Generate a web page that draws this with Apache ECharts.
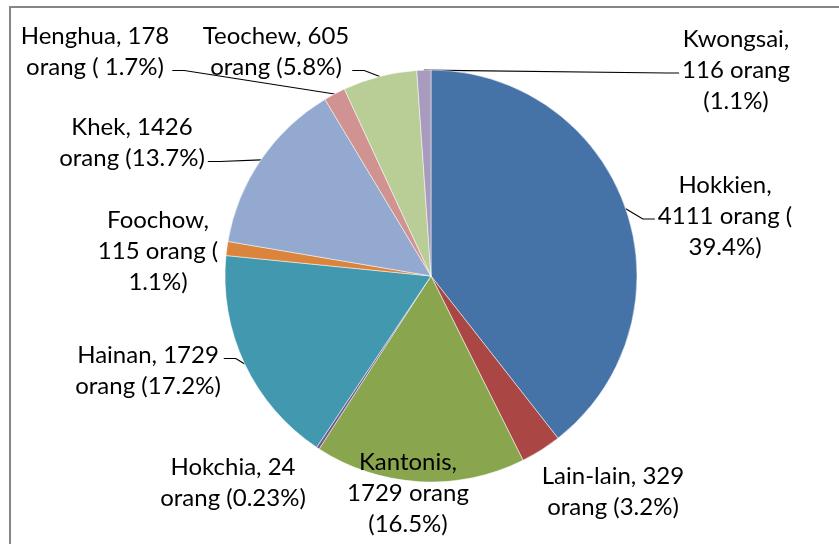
<!DOCTYPE html>
<html>
<head>
<meta charset="utf-8">
<script src="https://cdn.jsdelivr.net/npm/echarts@6/dist/echarts.min.js"></script>
<style>
  html, body { margin: 0; padding: 0; background: #fff; }
  #chart { width: 839px; height: 544px; }
</style>
</head>
<body>
<div id="chart"></div>
<script>
// data, clockwise from 12 o'clock
const names = ['Hokkien', 'Lain-lain', 'Kantonis', 'Hokchia', 'Hainan', 'Foochow', 'Khek', 'Henghua', 'Teochew', 'Kwongsai']
const counts = [4111, 329, 1729, 24, 1729, 115, 1426, 178, 605, 116]
const percents = [39.4, 3.2, 16.5, 0.23, 17.2, 1.1, 13.7, 1.7, 5.8, 1.1]
const colors = ['#4572A7', '#AA4643', '#89A54E', '#71588F', '#4198AF', '#DB843D', '#93A9CF', '#D19392', '#B9CD96', '#A99BBD']

// label text as wrapped in the original
const labelText = [
  'Hokkien,\n4111 orang (\n39.4%)',
  'Lain-lain, 329\norang (3.2%)',
  'Kantonis,\n1729 orang\n(16.5%)',
  'Hokchia, 24\norang (0.23%)',
  'Hainan, 1729\norang (17.2%)',
  'Foochow,\n115 orang (\n1.1%)',
  'Khek, 1426\norang (13.7%)',
  'Henghua, 178\norang ( 1.7%)',
  'Teochew, 605\norang (5.8%)',
  'Kwongsai,\n116 orang\n(1.1%)'
]
// which text line the leader line attaches to (-1 = no line)
const lineAttach = [1, -1, -1, -1, 0, -1, 1, 1, 1, 1]

// label centres (layout only)
const labelPos = [
  [725, 216], [613, 492], [408, 493], [233, 483], [148, 371],
  [158, 251], [132, 143], [95, 52], [276, 52], [736, 70]
]
const LINE_H = 31

const chart = echarts.init(document.getElementById('chart'))

chart.setOption({
  animation: false,
  graphic: [
    {
      type: 'rect',
      shape: { x: 10, y: 7, width: 900, height: 600 },
      style: { fill: 'none', stroke: '#868686', lineWidth: 2 },
      silent: true
    }
  ],
  series: [
    {
      type: 'pie',
      center: [431, 276],
      radius: 206,
      startAngle: 90,
      clockwise: true,
      avoidLabelOverlap: false,
      itemStyle: { borderColor: '#fff', borderWidth: 0.5 },
      label: {
        show: true,
        color: '#000',
        fontFamily: 'Lato',
        fontSize: 24,
        lineHeight: LINE_H,
        align: 'center',
        formatter: (p) => labelText[p.dataIndex]
      },
      labelLine: {
        lineStyle: { color: '#000', width: 1.2 }
      },
      labelLayout: (p) => {
        const i = p.dataIndex
        const [cx, cy] = labelPos[i]
        const out = { x: cx, y: cy, align: 'center', verticalAlign: 'middle' }
        const start = p.labelLinePoints && p.labelLinePoints[0]
        if (lineAttach[i] >= 0 && start) {
          const w = p.labelRect.width
          const nLines = labelText[i].split('\n').length
          const ly = cy + (lineAttach[i] - (nLines - 1) / 2) * LINE_H + 3
          const left = cx < start[0]
          const edge = left ? cx + w / 2 + 3 : cx - w / 2 - 3
          const knee = left ? edge + 12 : edge - 12
          out.labelLinePoints = [start, [knee, ly], [edge, ly]]
        }
        return out
      },
      data: names.map((n, i) => ({
        name: n,
        value: percents[i],
        count: counts[i],
        itemStyle: { color: colors[i] },
        labelLine: { show: lineAttach[i] >= 0 }
      }))
    }
  ]
})
</script>
</body>
</html>
